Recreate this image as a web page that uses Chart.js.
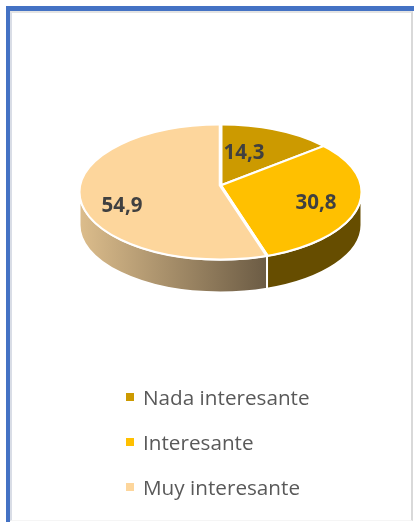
<!DOCTYPE html>
<html>
<head>
<meta charset="utf-8">
<script src="https://cdn.jsdelivr.net/npm/chart.js@4"></script>
<style>
html, body { margin: 0; padding: 0; background: #fff; overflow: hidden; }
#wrap { position: relative; width: 414px; height: 522px; }
#frame { position: absolute; left: 6px; top: 6px; right: 0; bottom: 0; border-left: 4px solid #4472c4; border-top: 5px solid #4472c4; }
#shadow { position: absolute; left: 10px; top: 11px; right: 1px; bottom: 1px; border-left: 2px solid #d9dde6; border-top: 2px solid #e4e4e4; border-right: 2px solid #d9d9d9; border-bottom: 1px solid #f5f5f5; }
canvas { position: absolute; left: 0; top: 0; }
#legend { position: absolute; left: 126px; top: 380px; font-family: "Open Sans", sans-serif; font-size: 20.7px; color: #595959; }
#legend div { position: relative; height: 45px; line-height: 34px; padding-left: 17px; white-space: nowrap; }
#legend i { position: absolute; left: 0; top: 13px; width: 8px; height: 8px; }
</style>
</head>
<body>
<div id="wrap">
	<div id="frame"></div>
	<div id="shadow"></div>
	<canvas id="pieChart" width="414" height="522"></canvas>
	<div id="legend"></div>
</div>
<script>
const categories = ["Nada interesante", "Interesante", "Muy interesante"];
const values = [14.3, 30.8, 54.9];
const valueLabels = ["14,3", "30,8", "54,9"];
const colors = ["#cc9a00", "#ffc000", "#fdd69c"];
const labelOffsets = [[23.5, -32], [95.5, 18], [-98.5, 21]];

const squash = 0.48;
const depth = 33;
const rimX = 141;
const rimY = 67.5;
const rimDrop = 6.5; // el vertice queda por encima del centro del borde, por la perspectiva

// angulo sobre la elipse del borde donde acaba el radio de una porcion
function rimAngle(a) {
	const dx = Math.cos(a), dy = Math.sin(a) * squash;
	const A = dx * dx / (rimX * rimX) + dy * dy / (rimY * rimY);
	const B = -2 * dy * rimDrop / (rimY * rimY);
	const C = rimDrop * rimDrop / (rimY * rimY) - 1;
	const t = (-B + Math.sqrt(B * B - 4 * A * C)) / (2 * A);
	return Math.atan2((t * dy - rimDrop) / rimY, t * dx / rimX);
}

// la tarta es plana en Chart.js, asi que se aplasta y se le dibuja el lateral
const pie3d = {
	id: "pie3d",
	beforeDatasetsDraw(chart) {
		const ctx = chart.ctx;
		const arcs = chart.getDatasetMeta(0).data;
		const cx = arcs[0].x, cy = arcs[0].y;
		const rimCy = cy + rimDrop;

		const grad = ctx.createLinearGradient(cx - rimX, 0, cx + 47, 0);
		grad.addColorStop(0, "#dcbd8c");
		grad.addColorStop(1, "#6b5b44");
		const sideFill = [null, "#664d00", grad];

		arcs.forEach((arc, i) => {
			if (!sideFill[i]) return;
			let s = rimAngle(arc.startAngle);
			let e = rimAngle(arc.endAngle);
			if (e < s) e += Math.PI * 2;
			s = Math.max(s, 0);
			e = Math.min(e, Math.PI);
			if (e <= s) return;
			ctx.beginPath();
			ctx.ellipse(cx, rimCy, rimX, rimY, 0, s, e);
			ctx.ellipse(cx, rimCy + depth, rimX, rimY, 0, e, s, true);
			ctx.closePath();
			ctx.fillStyle = sideFill[i];
			ctx.fill();
			ctx.strokeStyle = "#fff";
			ctx.lineWidth = 2;
			ctx.stroke();
		});

		ctx.save();
		ctx.beginPath();
		ctx.ellipse(cx, rimCy, rimX, rimY, 0, 0, Math.PI * 2);
		ctx.clip();
		ctx.translate(cx, cy);
		ctx.scale(1.2, 1.2 * squash);
		ctx.translate(-cx, -cy);
	},
	afterDatasetsDraw(chart) {
		const ctx = chart.ctx;
		ctx.restore();

		const arc = chart.getDatasetMeta(0).data[0];
		ctx.beginPath();
		ctx.ellipse(arc.x, arc.y + rimDrop, rimX, rimY, 0, 0, Math.PI * 2);
		ctx.strokeStyle = "#fff";
		ctx.lineWidth = 2;
		ctx.stroke();

		ctx.font = "bold 20.5px 'Open Sans', sans-serif";
		ctx.fillStyle = "#404040";
		ctx.textAlign = "center";
		ctx.textBaseline = "middle";
		valueLabels.forEach((t, i) => {
			ctx.fillText(t, arc.x + labelOffsets[i][0], arc.y + labelOffsets[i][1]);
		});
	}
};

const chart = new Chart(document.getElementById("pieChart").getContext("2d"), {
	type: "pie",
	data: {
		labels: categories,
		datasets: [{
			data: values,
			backgroundColor: colors,
			borderColor: "#fff",
			borderWidth: 3
		}]
	},
	options: {
		responsive: false,
		animation: false,
		layout: { padding: { left: 78, right: 51, top: 43, bottom: 194 } },
		plugins: {
			legend: { display: false },
			tooltip: { enabled: false }
		}
	},
	plugins: [pie3d]
});

const legend = document.getElementById("legend");
categories.forEach((name, i) => {
	const row = document.createElement("div");
	const mark = document.createElement("i");
	mark.style.background = colors[i];
	row.appendChild(mark);
	row.appendChild(document.createTextNode(name));
	legend.appendChild(row);
});
</script>
</body>
</html>
